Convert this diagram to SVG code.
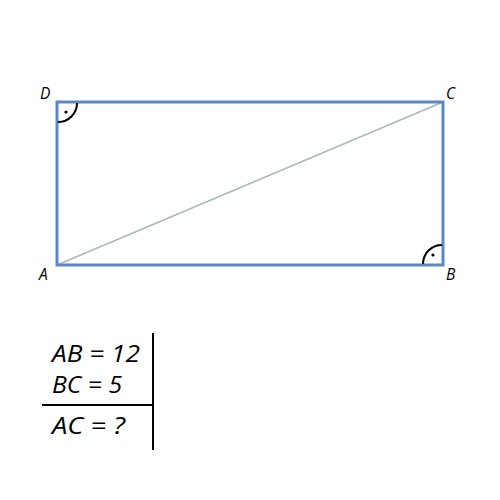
<svg xmlns="http://www.w3.org/2000/svg" width="500" height="500" viewBox="0 0 500 500">
<style>
.lbl{font-family:"Open Sans","Liberation Sans",sans-serif;font-style:italic;font-size:15.5px;fill:#000}
.eq{font-family:"Open Sans","Liberation Sans",sans-serif;font-style:italic;font-size:24px;fill:#000}
.arc{fill:none;stroke:#000;stroke-width:2}
</style>
<rect width="500" height="500" fill="#fff"/>
<g id="connectors">
<line x1="57" y1="265" x2="443" y2="102" stroke="#a9b7c0" stroke-width="1.5"/>
</g>
<g id="rectangle">
<rect x="57" y="102" width="386" height="163" fill="none" stroke="#5b87c6" stroke-width="3"/>
</g>
<g id="angleD">
<path class="arc" d="M77,103 A19,19 0 0 1 58,122"/>
<circle cx="66" cy="112" r="1.6" fill="#000"/>
</g>
<g id="angleB">
<path class="arc" d="M423,264 A19,19 0 0 1 442,245"/>
<circle cx="433" cy="255" r="1.6" fill="#000"/>
</g>
<g id="labels">
<text class="lbl" x="40" y="99">D</text>
<text class="lbl" x="446" y="99">C</text>
<text class="lbl" x="39" y="280">A</text>
<text class="lbl" x="446" y="280">B</text>
</g>
<g id="given">
<text class="eq" x="52" y="362" textLength="88" lengthAdjust="spacingAndGlyphs">AB = 12</text>
<text class="eq" x="52" y="393" textLength="70" lengthAdjust="spacingAndGlyphs">BC = 5</text>
<text class="eq" x="52" y="434" textLength="73" lengthAdjust="spacingAndGlyphs">AC = ?</text>
<line x1="42" y1="405" x2="153" y2="405" stroke="#000" stroke-width="2"/>
<line x1="153" y1="333" x2="153" y2="450" stroke="#000" stroke-width="2"/>
</g>
</svg>
